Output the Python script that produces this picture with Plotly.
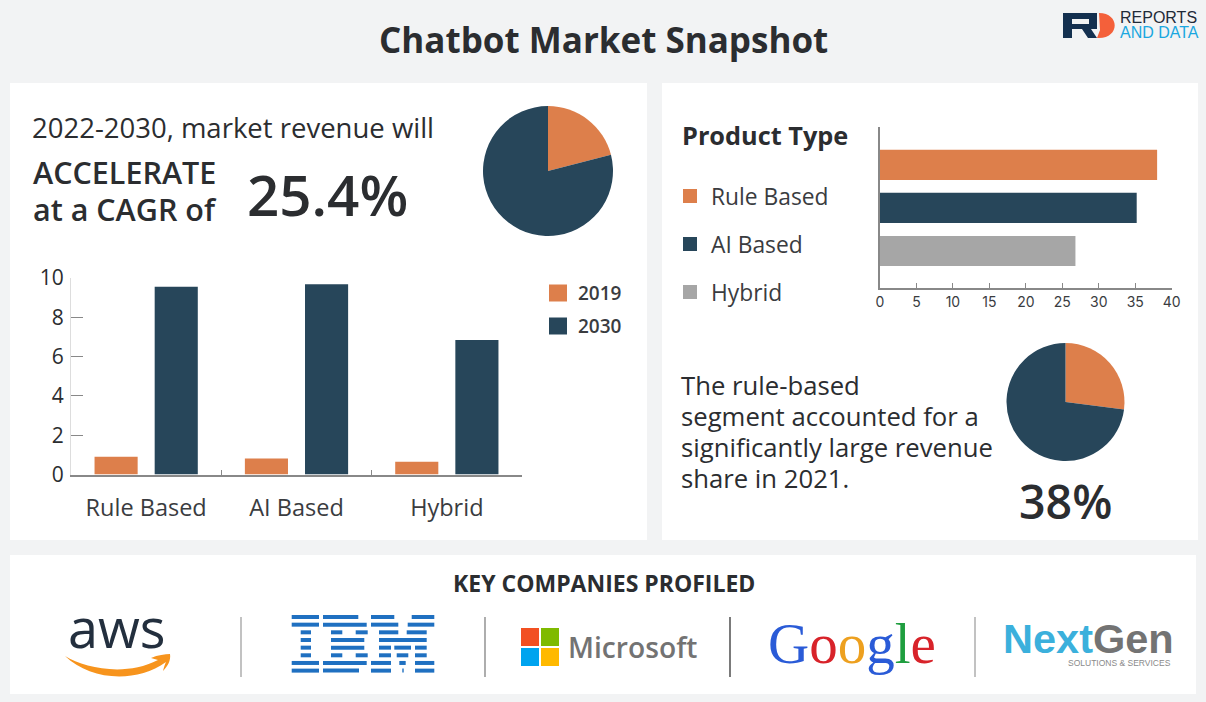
import plotly.graph_objects as go

W, H = 1206, 702
segments = ["Rule Based", "AI Based", "Hybrid"]
values_2019 = [0.9, 0.82, 0.65]
values_2030 = [9.55, 9.68, 6.85]
share_values = [38, 35.2, 26.8]
cagr_pie = [21, 79]
rule_pie = [27, 73]
bar_ticks = [0, 2, 4, 6, 8, 10]
share_ticks = [0, 5, 10, 15, 20, 25, 30, 35, 40]

ORANGE, NAVY, GREY = "#dd7f4b", "#27465a", "#a6a6a6"
INK = "#2b2d30"
BODY = "Open Sans"


def X(p):
    return p / W


def Y(p):
    return 1 - p / H


def path(cmds):
    out = []
    for c in cmds:
        if isinstance(c, str):
            out.append(c)
        else:
            out.append(f"{X(c[0]):.5f},{Y(c[1]):.5f}")
    return " ".join(out)


shapes, notes = [], []


def rect(x0, y0, x1, y1, color, layer="below"):
    shapes.append(dict(type="rect", xref="paper", yref="paper", x0=X(x0), x1=X(x1),
                       y0=Y(y1), y1=Y(y0), fillcolor=color, line_width=0, layer=layer))


def vline(x, y0, y1, color):
    shapes.append(dict(type="line", xref="paper", yref="paper", x0=X(x), x1=X(x),
                       y0=Y(y0), y1=Y(y1), line=dict(color=color, width=1.2), layer="below"))


def text(x, y, s, size, color=INK, weight=400, family=BODY, anchor="left"):
    notes.append(dict(xref="paper", yref="paper", x=X(x), y=Y(y), text=s, showarrow=False,
                      xanchor=anchor, yanchor="middle", align=anchor,
                      font=dict(family=family, size=size, color=color, weight=weight)))


# panels
rect(10, 83, 647, 540, "white")
rect(662, 83, 1198, 540, "white")
rect(10, 555, 1196, 694, "white")

# heading and text blocks
text(603.5, 39, "Chatbot Market Snapshot", 35, weight=700, anchor="center")
text(30, 128, "2022-2030, market revenue will", 27.5)
text(31, 172, "ACCELERATE", 30.5, weight=600)
text(31, 209, "at a CAGR of", 30.5, weight=600)
text(245, 194, "25.4%", 56.5, weight=600)
text(680, 135, "Product Type", 25.3, weight=700)
for lab, col, yy in zip(segments, [ORANGE, NAVY, GREY], [196, 244, 292]):
    rect(683, yy - 7, 697, yy + 7, col)
    text(708.5, yy, lab, 22.8, color="#3a3c3f")
for lab, col, yy in zip(["2019", "2030"], [ORANGE, NAVY], [293, 326]):
    rect(549, yy - 8.5, 567, yy + 8.5, col)
    text(576, yy, lab, 19, weight=600, color="#3a3c3f")
for line, yy in zip(["The rule-based", "segment accounted for a",
                     "significantly large revenue", "share in 2021."], [385.5, 416.5, 447.5, 478.5]):
    text(679, yy, line, 25.7)
text(1065.5, 501, "38%", 46.5, weight=600, anchor="center")
text(603.5, 582.5, "KEY COMPANIES PROFILED", 23, weight=700, anchor="center")

# RD logo
shapes.append(dict(type="path", xref="paper", yref="paper", fillcolor="#14304f", line_width=0,
                   path=path(["M", (1063, 13), "L", (1097, 13), "L", (1097, 29), "L", (1091, 29), "L", (1097, 38),
                              "L", (1088, 38), "L", (1082, 29), "L", (1072, 29), "L", (1072, 38), "L", (1063, 38), "Z",
                              "M", (1072, 19), "L", (1072, 24), "L", (1089, 24), "L", (1089, 19), "Z"])))
shapes.append(dict(type="path", xref="paper", yref="paper", fillcolor="#f4603a", line_width=0,
                   path=path(["M", (1099, 13), "C", (1120, 13), (1120, 38), (1099, 38), "L", (1097, 38),
                              "L", (1100, 30), "L", (1099, 13), "Z"])))
text(1118, 17.5, "REPORTS", 16, color="#1f2a38", family="Liberation Sans")
text(1118, 32.5, "AND DATA", 16, color="#1aa7e0", family="Liberation Sans")

# separators
for sx, col in zip([241, 485, 730, 975], ["#999999", "#777777", "#222222", "#999999"]):
    vline(sx, 617, 677, col)

# aws
text(116.5, 626.5, "aws", 54, color="#232f3e", family="Open Sans", anchor="center")
shapes.append(dict(type="path", xref="paper", yref="paper", fillcolor="#f7941d", line_width=0,
                   path=path(["M", (65, 656), "C", (85, 668), (125, 677), (158, 660), "L", (151, 658),
                              "C", (158, 655), (165, 654), (170, 654), "C", (171, 660), (168, 666), (163, 671),
                              "C", (164, 667), (165, 664), (166, 662), "C", (135, 684), (90, 680), (65, 656), "Z"])))

# IBM stripes, one list of x extents per row
IBM_ROWS = [
    [(291.7, 319), (323, 358.3), (371, 394.3), (411.7, 434.3)],
    [(291.7, 319), (323, 366.7), (371, 398.3), (407.7, 434.3)],
    [(300.7, 311), (331, 342.3), (355.7, 367.7), (379, 398.3), (406.7, 426.7)],
    [(300.7, 311), (331, 364.3), (379, 426.7)],
    [(300.7, 311), (331, 364.3), (379, 391), (394.3, 411), (415, 426.7)],
    [(300.7, 311), (331, 342.3), (355.7, 367.7), (379, 391), (396.7, 408.3), (415, 426.7)],
    [(291.7, 319), (323, 366.7), (371, 391), (399.3, 405.7), (415, 434.3)],
    [(291.7, 319), (323, 359), (371, 391), (402.3, 403.7), (415, 434.3)],
]
for i, row in enumerate(IBM_ROWS):
    y0 = 615 + i * 7.66
    for a, b in row:
        rect(a, y0, b, y0 + 4, "#1f70c1")

# Microsoft
rect(521, 628, 539, 646, "#f25022")
rect(541, 628, 559, 646, "#7fba00")
rect(521, 648, 539, 666, "#00a4ef")
rect(541, 648, 559, 666, "#ffb900")
text(566, 647, "Microsoft", 28.2, color="#737373", weight=600)

# Google
g = ("<span style='color:#2a5bd7'>G</span><span style='color:#d8232a'>o</span>"
     "<span style='color:#eda01f'>o</span><span style='color:#2a5bd7'>g</span>"
     "<span style='color:#1f9e3f'>l</span><span style='color:#d8232a'>e</span>")
text(852, 643, g, 57, family="Liberation Serif", anchor="center")

# NextGen
ng = "<span style='color:#3bb0dc'>Next</span><span style='color:#737373'>Gen</span>"
text(1001, 638.5, ng, 41.5, weight=700, family="Liberation Sans")
text(1173, 663, "SOLUTIONS &amp; SERVICES", 8.5, color="#8a8a8a", family="Liberation Sans", anchor="right")

fig = go.Figure()
fig.add_trace(go.Pie(values=cagr_pie, sort=False, direction="clockwise", rotation=0,
                     marker=dict(colors=[ORANGE, NAVY]), textinfo="none", hoverinfo="skip", showlegend=False,
                     domain=dict(x=[X(483), X(613)], y=[Y(236), Y(106)])))
fig.add_trace(go.Pie(values=rule_pie, sort=False, direction="clockwise", rotation=0,
                     marker=dict(colors=[ORANGE, NAVY]), textinfo="none", hoverinfo="skip", showlegend=False,
                     domain=dict(x=[X(1006), X(1125)], y=[Y(461), Y(343)])))
fig.add_trace(go.Bar(x=segments, y=values_2019, name="2019", marker_color=ORANGE, marker_line_width=0,
                     showlegend=False, xaxis="x", yaxis="y"))
fig.add_trace(go.Bar(x=segments, y=values_2030, name="2030", marker_color=NAVY, marker_line_width=0,
                     showlegend=False, xaxis="x", yaxis="y"))
fig.add_trace(go.Bar(x=share_values, y=segments, orientation="h", marker_color=[ORANGE, NAVY, GREY],
                     marker_line_width=0, width=0.7, showlegend=False, xaxis="x2", yaxis="y2"))

fig.update_layout(
    width=W, height=H, margin=dict(l=0, r=0, t=0, b=0, autoexpand=False), autosize=False,
    paper_bgcolor="#f2f3f4", plot_bgcolor="rgba(0,0,0,0)",
    font=dict(family=BODY, color=INK),
    barmode="group", bargap=0.2, bargroupgap=0.283,
    shapes=shapes, annotations=notes,
    xaxis=dict(domain=[X(71), X(522)], anchor="y", type="category", tickson="boundaries", automargin=False,
               ticks="inside", ticklen=5, tickcolor="#888888", showline=True, linecolor="#888888",
               linewidth=1.5, showgrid=False, zeroline=False,
               tickfont=dict(size=23.5, color="#3a3c3f"), ticklabelstandoff=12),
    yaxis=dict(domain=[Y(474.5), Y(278)], anchor="x", range=[0, 10], tickmode="array", automargin=False,
               tickvals=bar_ticks, ticks="inside", ticklen=12, tickcolor="#888888", showline=True,
               linecolor="#dddddd", linewidth=1, showgrid=False, zeroline=False,
               tickfont=dict(size=21, color=INK), ticklabelstandoff=2),
    xaxis2=dict(domain=[X(880), X(1171.7)], anchor="y2", range=[0, 40], tickmode="array", automargin=False,
                tickvals=share_ticks, ticks="inside", ticklen=5, tickcolor="#888888", showline=True,
                linecolor="#888888", linewidth=1.5, showgrid=False, zeroline=False,
                tickfont=dict(size=14, color="#3a3c3f", family="Inter")),
    yaxis2=dict(domain=[Y(288), Y(127)], anchor="x2", type="category", range=[2.86, -0.88], automargin=False,
                showline=True, linecolor="#888888", linewidth=1.5, showgrid=False, zeroline=False,
                ticks="", showticklabels=False),
)

fig.write_html("out.html", config=dict(displayModeBar=False),
               post_script="document.body.style.margin='0';")
